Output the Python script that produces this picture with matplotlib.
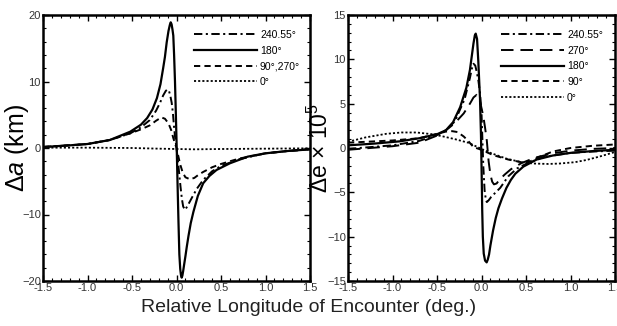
import numpy as np
import matplotlib
matplotlib.use("Agg")
import matplotlib.pyplot as plt
import matplotlib as mpl
from matplotlib.ticker import MultipleLocator, FormatStrFormatter

#==============#
# plot options #
#==============#
mpl.rcParams['font.family'] = ['Liberation Sans', 'DejaVu Sans']
mpl.rcParams['mathtext.fontset'] = 'custom'
mpl.rcParams['mathtext.rm'] = 'Liberation Sans'
mpl.rcParams['mathtext.it'] = 'Liberation Sans:italic'
mpl.rcParams['mathtext.default'] = 'regular'
mpl.rcParams['lines.scale_dashes'] = False
mpl.rcParams['axes.linewidth'] = 1.8
mpl.rcParams['axes.unicode_minus'] = True

#===============#
# the data      #
#===============#
# left panel: delta a (km)
la_180_x = [-1.5, -1.25, -1.0, -0.75, -0.52, -0.4, -0.33, -0.27, -0.22, -0.18,
            -0.15, -0.13, -0.11, -0.09, -0.075, -0.065, -0.055, -0.045, -0.036, -0.027,
            -0.017, -0.008, 0.002, 0.012, 0.022, 0.032, 0.042, 0.05, 0.058, 0.066,
            0.075, 0.085, 0.1, 0.115, 0.135, 0.16, 0.19, 0.24, 0.3, 0.37,
            0.45, 0.6, 0.8, 1.0, 1.25, 1.5]
la_180_y = [0.15, 0.35, 0.6, 1.2, 2.45, 3.5, 4.5, 5.8, 7.5, 9.6,
            12.0, 13.7, 15.9, 17.6, 18.5, 18.9, 18.6, 17.8, 16.9, 14.0,
            10.0, 5.5, 0.2, -5.5, -11.0, -16.0, -18.2, -19.1, -19.5, -19.2,
            -18.5, -17.6, -16.3, -14.9, -13.2, -11.3, -9.6, -7.2, -5.3, -4.2,
            -3.3, -2.3, -1.3, -0.8, -0.45, -0.2]

la_240_x = [-1.5, -1.0, -0.75, -0.52, -0.4, -0.3, -0.23, -0.185, -0.15, -0.12,
            -0.1, -0.085, -0.07, -0.054, -0.04, -0.028, -0.015, 0.0, 0.015, 0.03,
            0.045, 0.06, 0.075, 0.096, 0.115, 0.14, 0.18, 0.23, 0.3, 0.4,
            0.5, 0.7, 1.0, 1.25, 1.5]
la_240_y = [0.15, 0.6, 1.2, 2.2, 3.1, 4.2, 5.6, 6.8, 7.9, 8.6,
            8.8, 8.6, 7.9, 6.8, 5.2, 3.2, 1.5, 0.0, -1.8, -3.8,
            -5.8, -7.6, -8.8, -9.3, -8.9, -8.3, -7.3, -6.1, -4.8, -3.5,
            -2.7, -1.7, -0.8, -0.45, -0.2]

la_90_x = [-1.5, -1.0, -0.75, -0.52, -0.4, -0.3, -0.23, -0.17, -0.13, -0.09,
           -0.06, -0.036, -0.015, 0.0, 0.02, 0.04, 0.07, 0.1, 0.15, 0.2,
           0.25, 0.3, 0.4, 0.5, 0.7, 1.0, 1.25, 1.5]
la_90_y = [0.15, 0.6, 1.2, 2.2, 2.8, 3.4, 4.1, 4.6, 4.4, 3.7,
           2.7, 1.5, 0.6, 0.0, -1.2, -2.4, -3.7, -4.4, -4.7, -4.5,
           -4.0, -3.6, -2.9, -2.4, -1.6, -0.8, -0.45, -0.2]

la_0_x = [-1.5, -1.0, -0.5, -0.2, 0.0, 0.2, 0.5, 1.0, 1.5]
la_0_y = [0.05, 0.05, 0.0, -0.1, -0.15, -0.2, -0.15, -0.1, -0.05]

# right panel: delta e x 10^5
re_180_x = [-1.5, -1.2, -0.92, -0.7, -0.5, -0.4, -0.32, -0.24, -0.17, -0.13,
            -0.11, -0.09, -0.075, -0.065, -0.05, -0.036, -0.017, -0.006, 0.002, 0.008,
            0.015, 0.025, 0.04, 0.058, 0.07, 0.085, 0.1, 0.13, 0.16, 0.19,
            0.23, 0.28, 0.33, 0.38, 0.47, 0.62, 0.8, 1.0, 1.25, 1.5]
re_180_y = [0.3, 0.5, 0.75, 1.1, 1.55, 2.0, 2.9, 4.6, 6.8, 8.8,
            10.3, 11.8, 12.7, 12.9, 12.3, 9.8, 5.6, 1.5, -3.0, -7.0,
            -10.0, -11.9, -12.7, -12.9, -12.6, -12.0, -11.0, -9.3, -7.9, -6.8,
            -5.7, -4.5, -3.6, -2.9, -2.1, -1.3, -0.85, -0.55, -0.35, -0.2]

re_240_x = [-1.5, -1.0, -0.7, -0.5, -0.4, -0.3, -0.19, -0.13, -0.11, -0.09,
            -0.07, -0.054, -0.035, -0.017, 0.0, 0.01, 0.02, 0.035, 0.05, 0.06,
            0.08, 0.11, 0.15, 0.21, 0.3, 0.4, 0.5, 0.7, 1.0, 1.25, 1.5]
re_240_y = [-0.1, 0.3, 0.8, 1.45, 2.0, 3.0, 5.5, 7.9, 8.9, 9.5,
            9.3, 8.6, 7.6, 6.2, 4.0, 1.0, -2.0, -4.8, -5.9, -6.1,
            -5.9, -5.5, -5.1, -4.5, -3.2, -2.3, -1.8, -1.0, -0.55, -0.4, -0.3]

re_270_x = [-1.5, -1.0, -0.7, -0.5, -0.4, -0.3, -0.2, -0.13, -0.09, -0.054,
            -0.035, -0.015, 0.0, 0.02, 0.04, 0.06, 0.08, 0.1, 0.12, 0.14,
            0.17, 0.2, 0.26, 0.33, 0.45, 0.6, 0.8, 1.0, 1.25, 1.5]
re_270_y = [-0.2, 0.2, 0.6, 1.4, 2.0, 2.8, 3.9, 5.0, 5.7, 6.0,
            5.8, 5.2, 4.5, 3.6, 2.3, 0.8, -1.5, -3.0, -3.8, -4.1,
            -4.0, -3.6, -3.0, -2.4, -1.7, -1.1, -0.6, -0.3, -0.1, 0.0]

re_90_x = [-1.5, -1.2, -1.0, -0.7, -0.5, -0.4, -0.33, -0.27, -0.2, -0.15,
           -0.09, -0.03, 0.02, 0.13, 0.3, 0.47, 0.55, 0.65, 0.8, 1.0,
           1.25, 1.5]
re_90_y = [0.6, 0.75, 0.85, 1.1, 1.6, 1.85, 1.9, 1.8, 1.3, 0.8,
           0.1, -0.1, -0.3, -0.8, -1.3, -1.65, -1.5, -1.0, -0.4, 0.0,
           0.25, 0.4]

re_0_x = [-1.5, -1.3, -1.07, -0.9, -0.73, -0.55, -0.43, -0.3, -0.15, 0.0,
          0.1, 0.28, 0.45, 0.58, 0.75, 0.88, 1.05, 1.18, 1.35, 1.5]
re_0_y = [0.7, 1.2, 1.6, 1.75, 1.75, 1.55, 1.3, 1.0, 0.6, -0.1,
          -0.55, -1.2, -1.6, -1.75, -1.8, -1.75, -1.6, -1.35, -0.9, -0.45]

xticks = [-1.5, -1.0, -0.5, 0.0, 0.5, 1.0, 1.5]

# line styles
dashdot = (0, (6, 2.5, 1.5, 2.5))
shortdash = (0, (4.5, 3))
longdash = (0, (9, 5))
dotted = (0, (1.5, 1.5))

fig = plt.figure(figsize=(6.17, 3.26), dpi=100)
ax1 = fig.add_axes([43/617, 45/326, 267/617, 266/326])
ax2 = fig.add_axes([348/617, 45/326, 267/617, 266/326])

ax1.plot(la_240_x, la_240_y, color='k', lw=1.4, linestyle=dashdot, label='240.55°')
ax1.plot(la_180_x, la_180_y, color='k', lw=1.6, linestyle='-', label='180°')
ax1.plot(la_90_x, la_90_y, color='k', lw=1.4, linestyle=shortdash, label='90°,270°')
ax1.plot(la_0_x, la_0_y, color='k', lw=1.3, linestyle=dotted, label='0°')
ax1.set_ylim(-20, 20)
ax1.yaxis.set_major_locator(MultipleLocator(10))
ax1.yaxis.set_minor_locator(MultipleLocator(2))
ax1.set_ylabel(r'Δ$\it{a}$ (km)', fontsize=18)
ax1.yaxis.set_label_coords(-0.045, 0.5)

ax2.plot(re_240_x, re_240_y, color='k', lw=1.4, linestyle=dashdot, label='240.55°')
ax2.plot(re_270_x, re_270_y, color='k', lw=1.4, linestyle=longdash, label='270°')
ax2.plot(re_180_x, re_180_y, color='k', lw=1.6, linestyle='-', label='180°')
ax2.plot(re_90_x, re_90_y, color='k', lw=1.4, linestyle=shortdash, label='90°')
ax2.plot(re_0_x, re_0_y, color='k', lw=1.3, linestyle=dotted, label='0°')
ax2.set_ylim(-15, 15)
ax2.yaxis.set_major_locator(MultipleLocator(5))
ax2.yaxis.set_minor_locator(MultipleLocator(1))
ax2.set_ylabel(r'Δe × 10$^5$', fontsize=16.5)
ax2.yaxis.set_label_coords(-0.056, 0.5)

#============#
# Formatting #
#============#
legend_anchor = {ax1: (0.963, 0.944), ax2: (0.955, 0.944)}
for ax in (ax1, ax2):
    ax.set_xlim(-1.5, 1.5)
    ax.set_xticks(xticks)
    ax.xaxis.set_minor_locator(MultipleLocator(0.1))
    ax.xaxis.set_major_formatter(FormatStrFormatter('%.1f'))
    ax.tick_params(axis='both', which='both', direction='in', top=True, right=True,
                   labelsize=8, labelcolor='#333333', pad=1.5)
    ax.tick_params(which='major', length=4, width=1.0)
    ax.tick_params(which='minor', length=2, width=0.8)
    ax.legend(loc='upper right', bbox_to_anchor=legend_anchor[ax], frameon=False,
              fontsize=7.5, handlelength=6.0, handletextpad=0.3,
              labelspacing=0.55, borderaxespad=0, borderpad=0)

fig.text(0.5, 0.03, 'Relative Longitude of Encounter (deg.)', ha='center',
         va='bottom', fontsize=14, color='#222222')

plt.savefig('out.png', dpi=100)
